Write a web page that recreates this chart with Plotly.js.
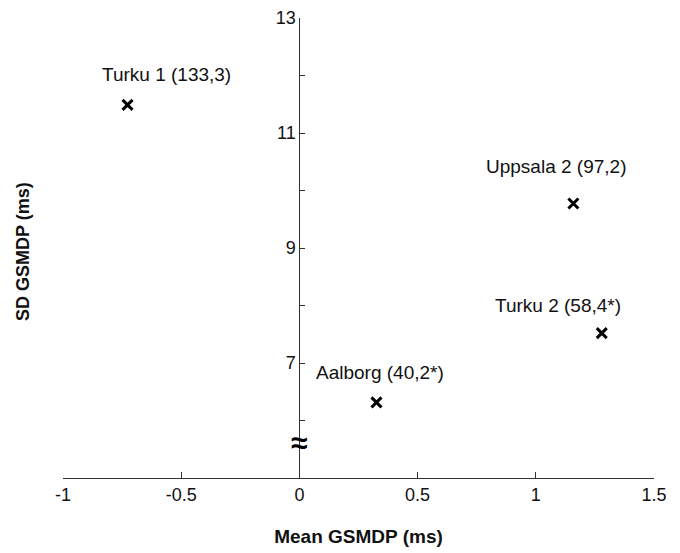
<!DOCTYPE html>
<html>
<head>
<meta charset="utf-8">
<script src="https://cdn.plot.ly/plotly-3.0.1.min.js"></script>
<style>html,body{margin:0;padding:0;background:#fff;}</style>
</head>
<body>
<div id="chart" style="width:680px;height:553px;"></div>
<script>
// Data
const sites = ["Turku 1 (133,3)", "Uppsala 2 (97,2)", "Turku 2 (58,4*)", "Aalborg (40,2*)"];
const meanGSMDP = [-0.727, 1.159, 1.279, 0.326];
const sdGSMDP = [11.49, 9.775, 7.52, 6.315];
const xTickVals = [-1, -0.5, 0, 0.5, 1, 1.5];
const xTickText = ["-1", "-0.5", "0", "0.5", "1", "1.5"];
const yTickVals = [7, 9, 11, 13];
const yTickText = ["7", "9", "11", "13"];
const yMinorVals = [6, 8, 10, 12];

// Styling: label offsets in pixels
const labelShiftX = [39, -17, -44, 4];
const labelShiftY = [30, 37, 28, 30];

const FONT = "Liberation Sans, Arial, sans-serif";
const AXC = "#333";

const trace = {
  type: "scatter",
  mode: "markers",
  x: meanGSMDP,
  y: sdGSMDP,
  marker: {symbol: "x-thin", size: 10, color: "#000", line: {width: 3, color: "#000"}},
  hoverinfo: "x+y"
};

const annotations = sites.map((s, i) => ({
  x: meanGSMDP[i], y: sdGSMDP[i], xref: "x", yref: "y",
  text: s, showarrow: false, xshift: labelShiftX[i], yshift: labelShiftY[i],
  font: {family: FONT, size: 19, color: "#111"}
}));

annotations.push({
  x: 0, y: 5.61, xref: "x", yref: "y", text: "<b>≈</b>", showarrow: false,
  font: {family: FONT, size: 30, color: "#000"}
});

const W = 680, H = 553, L = 63, R = 26, T = 18, B = 75;
annotations.push({
  x: (23 - L) / (W - L - R), y: (H - B - 252) / (H - T - B),
  xref: "paper", yref: "paper", text: "<b>SD GSMDP (ms)</b>",
  showarrow: false, textangle: -90, xanchor: "center", yanchor: "middle",
  font: {family: FONT, size: 18, color: "#111"}
});

const layout = {
  width: W, height: H,
  margin: {l: L, r: R, t: T, b: B, pad: 0},
  paper_bgcolor: "#fff", plot_bgcolor: "#fff",
  showlegend: false,
  font: {family: FONT, size: 18, color: "#111"},
  xaxis: {
    range: [-1, 1.5], showgrid: false, zeroline: false,
    showline: true, linecolor: AXC, linewidth: 1,
    ticks: "inside", ticklen: 6, tickcolor: AXC, tickwidth: 1,
    tickmode: "array", tickvals: xTickVals, ticktext: xTickText,
    tickfont: {family: FONT, size: 18, color: "#111"},
    title: {text: "<b>Mean GSMDP (ms)</b>", standoff: 26, font: {family: FONT, size: 19, color: "#111"}}
  },
  yaxis: {
    range: [5, 13], showgrid: false, zeroline: false,
    anchor: "free", position: 0.4, side: "left",
    showline: true, linecolor: AXC, linewidth: 1,
    ticks: "inside", ticklen: 5, tickcolor: AXC, tickwidth: 1,
    tickmode: "array", tickvals: yTickVals, ticktext: yTickText,
    tickfont: {family: FONT, size: 18, color: "#111"},
    minor: {tickmode: "array", tickvals: yMinorVals, ticks: "inside", ticklen: 5, tickcolor: AXC, showgrid: false}
  },
  annotations: annotations
};

Plotly.newPlot("chart", [trace], layout, {displayModeBar: false, staticPlot: true});
</script>
</body>
</html>
